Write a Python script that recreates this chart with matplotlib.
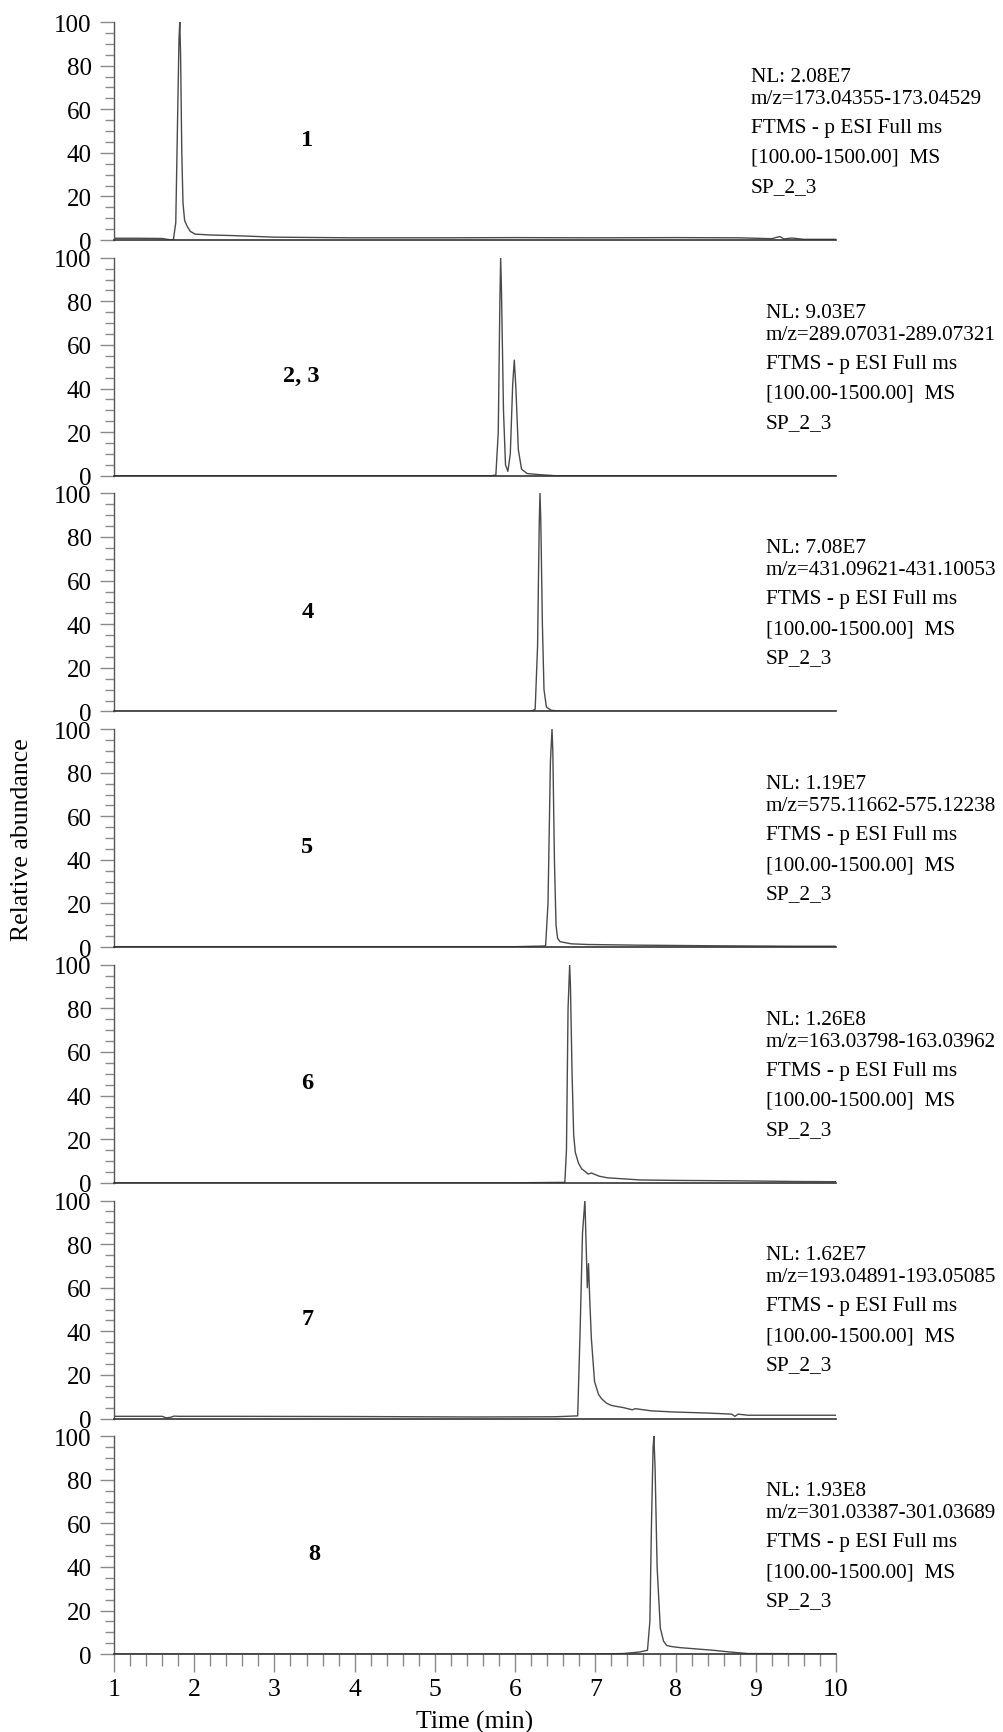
import matplotlib
matplotlib.use("Agg")
import matplotlib.pyplot as plt
from matplotlib.ticker import MultipleLocator

plt.rcParams['font.family'] = ['Liberation Serif', 'DejaVu Serif']

# chromatogram traces (time in min, relative abundance in %)
t1 = [1.0, 1.3, 1.6, 1.68, 1.74, 1.77, 1.79, 1.81, 1.82, 1.83, 1.845, 1.86, 1.88, 1.91, 1.95, 2.01,
      2.2, 2.5, 3.0, 4.0, 5.0, 6.0, 7.0, 8.0, 8.8, 9.2, 9.3, 9.35, 9.45, 9.6, 10.0]
i1 = [0.8, 0.8, 0.7, 0.2, 0.0, 8, 50, 92, 100, 85, 40, 17, 9, 6.4, 4, 2.7,
      2.3, 2.0, 1.3, 1.0, 1.0, 1.1, 1.0, 1.1, 1.0, 0.6, 1.6, 0.5, 0.9, 0.3, 0.3]

t2 = [1.0, 5.7, 5.76, 5.79, 5.81, 5.82, 5.83, 5.855, 5.88, 5.91, 5.94, 5.97, 5.99, 6.01, 6.04,
      6.08, 6.15, 6.3, 6.5, 10.0]
i2 = [0, 0, 0.3, 20, 80, 100, 85, 30, 5, 2, 10, 42, 53, 40, 12,
      3, 1, 0.5, 0, 0]

t3 = [1.0, 6.2, 6.25, 6.28, 6.30, 6.31, 6.32, 6.34, 6.36, 6.39, 6.45, 6.6, 10.0]
i3 = [0, 0, 1, 30, 85, 100, 88, 40, 10, 2, 0.5, 0, 0]

t4 = [1.0, 3.0, 6.0, 6.38, 6.41, 6.44, 6.46, 6.47, 6.49, 6.51, 6.53, 6.56, 6.6, 6.7, 6.9, 7.5,
      8.5, 9.5, 10.0]
i4 = [0.2, 0.2, 0.2, 0.5, 20, 85, 100, 90, 40, 10, 4, 2.5, 2.2, 1.5, 1.2, 0.9,
      0.6, 0.4, 0.4]

t5 = [1.0, 6.0, 6.62, 6.64, 6.66, 6.68, 6.69, 6.71, 6.73, 6.75, 6.79, 6.83, 6.88, 6.91, 6.95,
      7.05, 7.15, 7.56, 8.0, 8.8, 9.5, 10.0]
i5 = [0, 0, 0.2, 15, 80, 100, 90, 50, 22, 14, 9, 6.4, 5, 4, 4.5,
      3, 2.3, 1.3, 1.1, 0.9, 0.6, 0.5]

t6 = [1.0, 1.6, 1.65, 1.7, 1.75, 1.8, 2.5, 4.0, 5.5, 6.5, 6.78, 6.81, 6.84, 6.87, 6.885, 6.90,
      6.915, 6.93, 6.95, 6.99, 7.04, 7.08, 7.14, 7.2, 7.27, 7.35, 7.46, 7.5, 7.7, 7.97, 8.4, 8.7,
      8.74, 8.78, 8.9, 9.5, 10.0]
i6 = [1.0, 1.0, 0.3, 0.5, 1.1, 1.0, 1.0, 0.9, 0.7, 0.8, 1.2, 40, 85, 100, 80, 60,
      71, 55, 37, 17, 11, 9, 7, 6, 5.5, 5, 4, 4.5, 3.5, 3, 2.5, 2,
      1.0, 2, 1.5, 1.5, 1.5]

t7 = [1.0, 5.0, 7.0, 7.35, 7.55, 7.65, 7.68, 7.70, 7.72, 7.73, 7.745, 7.77, 7.81, 7.85, 7.89,
      7.95, 8.06, 8.47, 8.68, 8.9, 10.0]
i7 = [0, 0, 0.1, 0.3, 1, 1.8, 15, 60, 95, 100, 85, 40, 12, 6, 4,
      3.5, 3, 1.8, 1, 0.3, 0.2]

traces = [(t1, i1), (t2, i2), (t3, i3), (t4, i4), (t5, i5), (t6, i6), (t7, i7)]
compounds = ["1", "2, 3", "4", "5", "6", "7", "8"]
nl_values = ["2.08E7", "9.03E7", "7.08E7", "1.19E7", "1.26E8", "1.62E7", "1.93E8"]
mz_ranges = ["173.04355-173.04529", "289.07031-289.07321", "431.09621-431.10053",
             "575.11662-575.12238", "163.03798-163.03962", "193.04891-193.05085",
             "301.03387-301.03689"]
label_x = [3.41, 3.33, 3.41, 3.41, 3.41, 3.41, 3.49]
note_x = [751, 766, 766, 766, 766, 766, 766]
note_dy = [0, 22, 51, 81, 110]

W, H = 1004, 1733
fig = plt.figure(figsize=(W / 100, H / 100), dpi=100)

x_left, x_right = 114, 836
zero0, step, ph = 241, 235.7, 218
line_col = "#4a4a4a"
tick_col = "#8a8a8a"

for k, (t, y) in enumerate(traces):
    yz = zero0 + k * step
    ax = fig.add_axes([x_left / W, 1 - yz / H, (x_right - x_left) / W, ph / H])
    ax.plot(t, y, color=line_col, lw=1.0)
    ax.set_xlim(1, 10)
    ax.set_ylim(0, 100)
    ax.patch.set_alpha(0)
    for s in ["top", "right"]:
        ax.spines[s].set_visible(False)
    ax.spines["left"].set_color("#555555")
    ax.spines["bottom"].set_color("#333333")
    ax.spines["left"].set_linewidth(1.0)
    ax.spines["bottom"].set_linewidth(1.2)
    ax.yaxis.set_major_locator(MultipleLocator(20))
    ax.yaxis.set_minor_locator(MultipleLocator(5))
    ax.tick_params(axis="y", which="major", length=10, width=1, color=tick_col,
                   labelsize=18, pad=6)
    ax.tick_params(axis="y", which="minor", length=6.5, width=1, color=tick_col)
    if k == len(traces) - 1:
        ax.xaxis.set_major_locator(MultipleLocator(1))
        ax.xaxis.set_minor_locator(MultipleLocator(0.2))
        ax.tick_params(axis="x", which="major", length=13, width=1, color=tick_col,
                       labelsize=18.5, pad=4)
        ax.tick_params(axis="x", which="minor", length=8.5, width=1, color=tick_col)
    else:
        ax.set_xticks([])
    ax.text(label_x[k], 46, compounds[k], fontsize=17.5, fontweight="bold",
            ha="center", va="center")

    lines = ["NL: " + nl_values[k], "m/z=" + mz_ranges[k], "FTMS - p ESI Full ms",
             "[100.00-1500.00]  MS", "SP_2_3"]
    base = yz - 159
    for j, s in enumerate(lines):
        fig.text(note_x[k] / W, 1 - (base + note_dy[j]) / H, s, fontsize=15.3,
                 ha="left", va="baseline")

fig.text(22 / W, 1 - 840 / H, "Relative abundance", rotation=90, fontsize=18.5,
         ha="center", va="center")
fig.text(475 / W, 1 - 1722 / H, "Time (min)", fontsize=18.5, ha="center", va="center")

fig.savefig("out.png", dpi=100)
